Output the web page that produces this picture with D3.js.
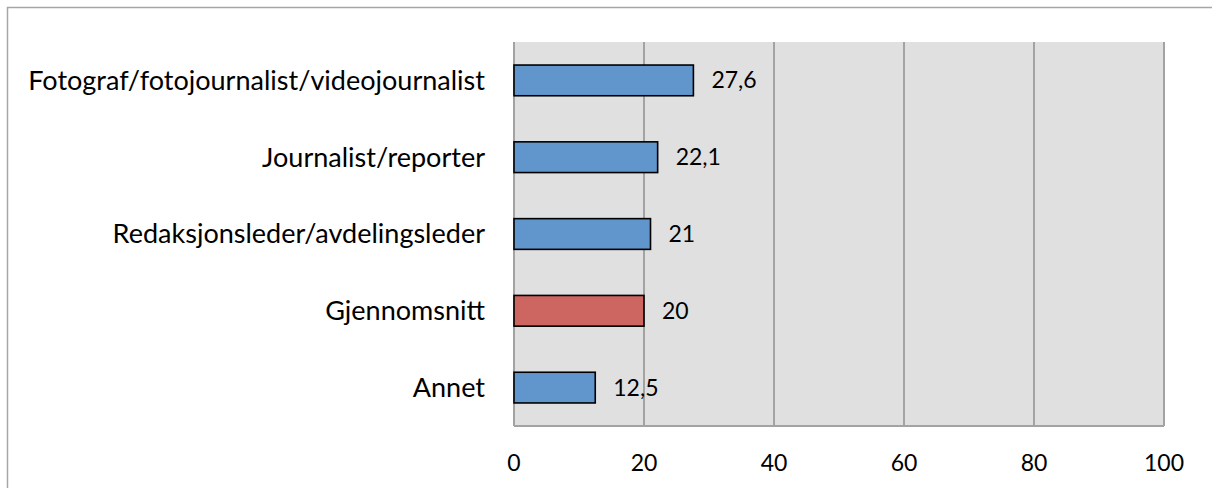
<!DOCTYPE html>
<html>
<head>
<meta charset="utf-8">
<script src="https://cdn.jsdelivr.net/npm/d3@7"></script>
<style>
  html, body { margin: 0; padding: 0; background: #fff; }
  svg { display: block; }
  text { font-family: Lato, 'Open Sans', sans-serif; fill: #000; }
</style>
</head>
<body>
<svg id="chart" width="1212" height="488"></svg>
<script>
// data
var categories = ['Fotograf/fotojournalist/videojournalist', 'Journalist/reporter',
  'Redaksjonsleder/avdelingsleder', 'Gjennomsnitt', 'Annet']
var values = [27.6, 22.1, 21, 20, 12.5]
var highlight = ['Gjennomsnitt']
var ticks = [0, 20, 40, 60, 80, 100]

var blue = '#6096cc'
var red = '#cd6560'

var svg = d3.select('#chart')
var plot = { left: 514, right: 1164, top: 42, bottom: 426 }

// outer frame (only top and left edges are in view)
svg.append('path')
  .attr('d', 'M7.5,488 V7.5 H1212')
  .attr('fill', 'none')
  .attr('stroke', '#a6a6a6')
  .attr('stroke-width', 1.5)

var x = d3.scaleLinear().domain([0, 100]).range([plot.left, plot.right])
var y = d3.scaleBand().domain(categories).range([plot.top, plot.bottom]).paddingInner(0.6).paddingOuter(0.3)

svg.append('rect')
  .attr('x', plot.left).attr('y', plot.top)
  .attr('width', plot.right - plot.left).attr('height', plot.bottom - plot.top)
  .attr('fill', '#e0e0e0')

// gridlines
svg.append('g')
  .selectAll('line')
  .data(ticks)
  .join('line')
  .attr('x1', (d) => x(d)).attr('x2', (d) => x(d))
  .attr('y1', plot.top).attr('y2', plot.bottom)
  .attr('stroke', '#a3a3a3')
  .attr('stroke-width', 2)

svg.append('line')
  .attr('x1', plot.left).attr('x2', plot.right)
  .attr('y1', plot.bottom).attr('y2', plot.bottom)
  .attr('stroke', '#a3a3a3')
  .attr('stroke-width', 2)

// bars
svg.append('g')
  .selectAll('rect')
  .data(categories)
  .join('rect')
  .attr('x', x(0))
  .attr('y', (d) => y(d))
  .attr('width', (d, i) => x(values[i]) - x(0))
  .attr('height', y.bandwidth())
  .attr('fill', (d) => highlight.includes(d) ? red : blue)
  .attr('stroke', '#000')
  .attr('stroke-width', 1.6)

// value labels
svg.append('g')
  .selectAll('text')
  .data(categories)
  .join('text')
  .attr('x', (d, i) => x(values[i]) + 18)
  .attr('y', (d) => y(d) + y.bandwidth() / 2)
  .attr('dy', '0.35em')
  .attr('font-size', 23)
  .text((d, i) => String(values[i]).replace('.', ','))

// category labels
var catLabels = svg.append('g')
  .selectAll('text')
  .data(categories)
  .join('text')
  .attr('x', 485)
  .attr('y', (d) => y(d) + y.bandwidth() / 2)
  .attr('dy', '0.35em')
  .attr('text-anchor', 'end')
  .attr('font-size', 22)
  .text((d) => d)

// fit the longest label to the width it has in the picture
var longest = d3.max(catLabels.nodes(), (n) => n.getComputedTextLength())
catLabels.attr('font-size', 22 * 457 / longest)

// x tick labels
svg.append('g')
  .selectAll('text')
  .data(ticks)
  .join('text')
  .attr('x', (d) => x(d))
  .attr('y', 463)
  .attr('dy', '0.35em')
  .attr('text-anchor', 'middle')
  .attr('font-size', 23)
  .text((d) => d)
</script>
</body>
</html>
